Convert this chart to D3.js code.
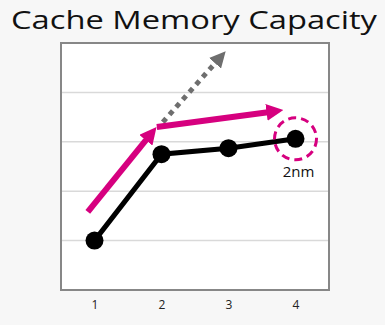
<!DOCTYPE html>
<html>
<head>
<meta charset="utf-8">
<script src="https://cdn.jsdelivr.net/npm/d3@7"></script>
<style>
  body { margin: 0; background: #f7f7f7; }
  text { font-family: "Open Sans", sans-serif; }
</style>
</head>
<body>
<div id="plot"></div>
<script>
var categories = [1, 2, 3, 4]
var values = [1, 2.75, 2.87, 3.06]
var gridValues = [1, 2, 3, 4]
var trendUp = [[0.9, 1.58], [1.92, 3.29]]
var trendFlat = [[1.93, 3.3], [3.81, 3.64]]
var trendOld = [[2.02, 3.4], [2.95, 4.82]]
var highlightLabel = "2nm"

var margin = { top: 43, right: 56, bottom: 35, left: 61 }
  , width = 385 - margin.left - margin.right
  , height = 325 - margin.top - margin.bottom

var pink = "#d6007f"

var svg = d3.select("#plot")
  .append("svg")
  .attr("width", 385)
  .attr("height", 325)

svg.append("text")
  .attr("x", 194)
  .attr("y", 29)
  .attr("text-anchor", "middle")
  .attr("textLength", 366)
  .attr("lengthAdjust", "spacingAndGlyphs")
  .style("font-size", "26px")
  .style("fill", "#111")
  .text("Cache Memory Capacity")

var defs = svg.append("defs")
var addMarker = function (id, color, size) {
  defs.append("marker")
    .attr("id", id)
    .attr("markerUnits", "userSpaceOnUse")
    .attr("viewBox", "0 -5 10 10")
    .attr("refX", 2)
    .attr("refY", 0)
    .attr("markerWidth", size)
    .attr("markerHeight", size)
    .attr("orient", "auto")
    .append("path")
    .attr("d", "M0,-5L10,0L0,5Z")
    .attr("fill", color)
}
addMarker("pinkHead", pink, 17)
addMarker("grayHead", "#6e6e6e", 16)

var g = svg.append("g")
  .attr("transform", "translate(" + margin.left + "," + margin.top + ")")

var xScale = d3.scaleLinear()
  .domain([0.5, 4.5])
  .range([0, width])

var yScale = d3.scaleLinear()
  .domain([0, 5])
  .range([height, 0])

g.append("rect")
  .attr("width", width)
  .attr("height", height)
  .attr("fill", "#fff")

g.selectAll(".grid")
  .data(gridValues)
  .enter()
  .append("line")
  .attr("class", "grid")
  .attr("x1", 0)
  .attr("x2", width)
  .attr("y1", d => yScale(d))
  .attr("y2", d => yScale(d))
  .attr("stroke", "#d9d9d9")
  .attr("stroke-width", 1.5)

g.append("rect")
  .attr("width", width)
  .attr("height", height)
  .attr("fill", "none")
  .attr("stroke", "#878787")
  .attr("stroke-width", 2)

var xAxis = g.append("g")
  .attr("transform", "translate(0," + height + ")")
  .call(d3.axisBottom(xScale).tickValues(categories).tickFormat(d3.format("d")).tickSize(0).tickPadding(10))
xAxis.select(".domain").remove()
xAxis.selectAll("text")
  .style("font-size", "12px")
  .style("fill", "#222")
  .style("font-family", "'Open Sans', sans-serif")

var line = d3.line()
  .x(d => xScale(d[0]))
  .y(d => yScale(d[1]))

// shortens end of a segment so the arrow tip lands on the end point
var shorten = function (pts, by) {
  var a = pts[0], b = pts[1]
  var x0 = xScale(a[0]), y0 = yScale(a[1]), x1 = xScale(b[0]), y1 = yScale(b[1])
  var len = Math.hypot(x1 - x0, y1 - y0)
  var k = (len - by) / len
  return [[a[0], a[1]], [xScale.invert(x0 + (x1 - x0) * k), yScale.invert(y0 + (y1 - y0) * k)]]
}

g.append("path")
  .attr("d", line(shorten(trendOld, 12)))
  .attr("fill", "none")
  .attr("stroke", "#6e6e6e")
  .attr("stroke-width", 5)
  .attr("stroke-dasharray", "5,5")
  .attr("marker-end", "url(#grayHead)")

g.append("path")
  .attr("d", line(shorten(trendUp, 13)))
  .attr("fill", "none")
  .attr("stroke", pink)
  .attr("stroke-width", 6)
  .attr("marker-end", "url(#pinkHead)")

g.append("path")
  .attr("d", line(shorten(trendFlat, 13)))
  .attr("fill", "none")
  .attr("stroke", pink)
  .attr("stroke-width", 6)
  .attr("marker-end", "url(#pinkHead)")

var pts = categories.map((c, i) => [c, values[i]])

g.append("path")
  .datum(pts)
  .attr("d", line)
  .attr("fill", "none")
  .attr("stroke", "#000")
  .attr("stroke-width", 5)

g.selectAll(".dot")
  .data(pts)
  .enter()
  .append("circle")
  .attr("class", "dot")
  .attr("cx", d => xScale(d[0]))
  .attr("cy", d => yScale(d[1]))
  .attr("r", 9)
  .attr("fill", "#000")

var last = pts[pts.length - 1]
g.append("circle")
  .attr("cx", xScale(last[0]))
  .attr("cy", yScale(last[1]))
  .attr("r", 21)
  .attr("fill", "none")
  .attr("stroke", pink)
  .attr("stroke-width", 3)
  .attr("stroke-dasharray", "8,5")

g.append("text")
  .attr("x", xScale(last[0]) + 3)
  .attr("y", yScale(last[1]) + 38)
  .attr("text-anchor", "middle")
  .style("font-size", "15px")
  .style("fill", "#111")
  .text(highlightLabel)
</script>
</body>
</html>
